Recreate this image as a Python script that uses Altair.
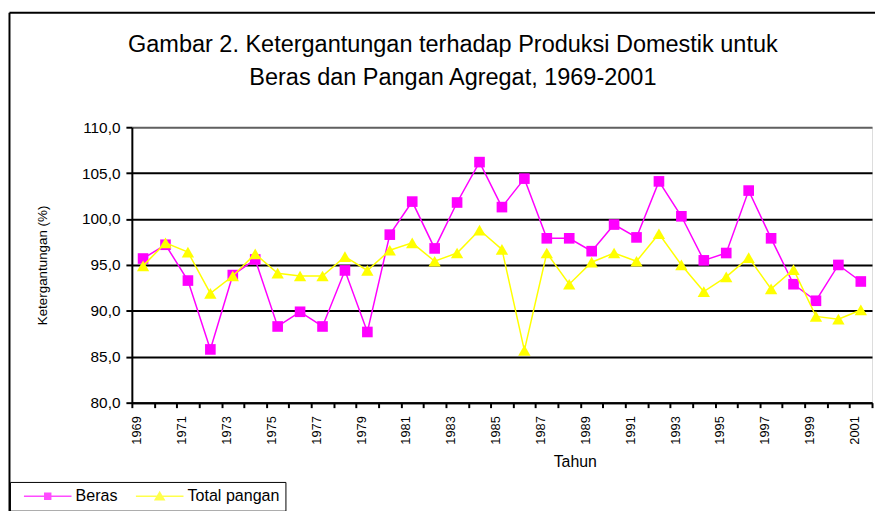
import altair as alt
import pandas as pd

# ---- data ----
years = list(range(1969, 2002))
beras = [95.7, 97.2, 93.3, 85.8, 93.9, 95.6, 88.3, 89.9, 88.3, 94.4, 87.7,
         98.3, 101.9, 96.8, 101.8, 106.2, 101.3, 104.4, 97.9, 97.9, 96.5, 99.4,
         98.0, 104.1, 100.3, 95.5, 96.3, 103.1, 97.9, 92.9, 91.1, 95.0, 93.2]
total_pangan = [94.9, 97.4, 96.4, 91.9, 93.8, 96.2, 94.1, 93.8, 93.8, 95.9, 94.4,
                96.6, 97.4, 95.4, 96.3, 98.8, 96.7, 85.7, 96.3, 92.9, 95.3, 96.3,
                95.4, 98.4, 95.0, 92.1, 93.7, 95.8, 92.4, 94.5, 89.4, 89.1, 90.1]
series_names = ["Beras", "Total pangan"]
series_colors = ["#FF00FF", "#FFFF00"]
series_shapes = ["square", "triangle-up"]
y_ticks = [80, 85, 90, 95, 100, 105, 110]
title_lines = ["Gambar 2. Ketergantungan terhadap Produksi Domestik untuk",
               "Beras dan Pangan Agregat, 1969-2001"]
x_title = "Tahun"
y_title = "Ketergantungan (%)"

df = pd.DataFrame({
    "Tahun": years * 2,
    "nilai": beras + total_pangan,
    "seri": [series_names[0]] * len(years) + [series_names[1]] * len(years),
})
x_bounds = [y - 0.5 for y in years] + [years[-1] + 0.5]

FONT = "Liberation Sans"

# legend symbols (stroked only): line with a marker in the middle, Excel style
path_beras = ("M-4.8,0H4.8M-0.6,-0.6H0.6V0.6H-0.6Z"
              "M-0.6,-0.3H0.6M-0.6,0.3H0.6")
path_total = ("M-4.8,0H4.8M0,-0.8L0.9,0.7H-0.9Z"
              "M-0.18,-0.5H0.18M-0.36,-0.2H0.36M-0.54,0.1H0.54M-0.72,0.4H0.72")

legend = alt.Legend(
    title=None, orient="none", legendX=-123, legendY=358,
    direction="horizontal", padding=6, strokeColor="black", fillColor="white",
    labelFont=FONT, labelFontSize=16.2, labelColor="black",
    symbolSize=100, symbolOffset=24, labelOffset=20, columnPadding=10,
    symbolStrokeWidth=1.5,
)

x_enc = alt.X(
    "Tahun:Q",
    scale=alt.Scale(domain=[years[0] - 0.5, years[-1] + 0.5], nice=False, zero=False),
    axis=alt.Axis(
        values=x_bounds,
        labelExpr="(datum.value + 0.5) % 2 == 1 ? toString(datum.value + 0.5) : ''",
        labelAngle=270, labelAlign="right", labelBaseline="middle",
        labelOffset=5, labelPadding=8, labelFlush=False, labelOverlap=False,
        labelFontSize=13, tickSize=5, tickWidth=2, tickColor="black",
        domainColor="black", domainWidth=2, grid=False,
        title=x_title, titleX=447, titleY=64, titleBaseline="alphabetic",
        titleAlign="center", titleFontSize=16, titleFontWeight="normal",
    ),
)
y_enc = alt.Y(
    "nilai:Q",
    scale=alt.Scale(domain=[80, 110], nice=False, zero=False),
    axis=alt.Axis(
        values=y_ticks,
        labelExpr="replace(format(datum.value, '.1f'), '.', ',')",
        grid=True,
        gridColor={"condition": {"test": "datum.value == 110", "value": "#606060"}, "value": "black"},
        gridWidth=2, tickSize=6, tickWidth=2, tickColor="black",
        domainColor="black", domainWidth=2, labelPadding=6, labelFontSize=15.5,
        title=y_title, titleX=-90, titleY=139, titleAngle=270, titleAlign="center",
        titleBaseline="middle", titleFontSize=13.5, titleFontWeight="normal",
    ),
)

frame_df = pd.DataFrame({"k": [0]})
border_top = alt.Chart(frame_df).mark_rule(color="black", strokeWidth=2).encode(
    x=alt.value(-123.5), x2=alt.value(760), y=alt.value(-115.5))
border_left = alt.Chart(frame_df).mark_rule(color="black", strokeWidth=2).encode(
    x=alt.value(-123.5), y=alt.value(-115.5), y2=alt.value(400))

series_layers = []
for name, col, shp, sz in zip(series_names, series_colors, series_shapes, [115, 155]):
    base = alt.Chart(df).transform_filter(alt.datum.seri == name)
    series_layers.append(base.mark_line(strokeWidth=1.5, color=col).encode(x=x_enc, y=y_enc))
    series_layers.append(base.mark_point(filled=True, opacity=1, size=sz, shape=shp, color=col)
                         .encode(x=x_enc, y=y_enc))

# legend-only layer: invisible points, colour + shape share one legend
legend_layer = alt.Chart(df).mark_point(filled=False, size=0, strokeWidth=1.5).encode(
    x=x_enc, y=y_enc,
    color=alt.Color("seri:N", scale=alt.Scale(domain=series_names, range=series_colors), legend=legend),
    shape=alt.Shape("seri:N", scale=alt.Scale(domain=series_names, range=[path_beras, path_total]), legend=legend),
)

chart = alt.layer(border_top, border_left, *series_layers, legend_layer).properties(
    width=747, height=278,
    padding={"left": 125, "top": 118, "right": 3, "bottom": 107},
    autosize=alt.AutoSizeParams(type="none"),
    title=alt.TitleParams(
        text=title_lines, font=FONT, fontSize=23.7, fontWeight="normal",
        color="black", lineHeight=33, anchor="middle", baseline="bottom",
        dx=-49.5, offset=-102.4,
    ),
).configure_view(
    fill="#C0C0C0", stroke="#808080", strokeWidth=2
).configure_axis(
    labelFont=FONT, titleFont=FONT, labelColor="black", titleColor="black"
).configure(background="white")

chart.save("out.html", embed_options={"renderer": "svg", "actions": False})
